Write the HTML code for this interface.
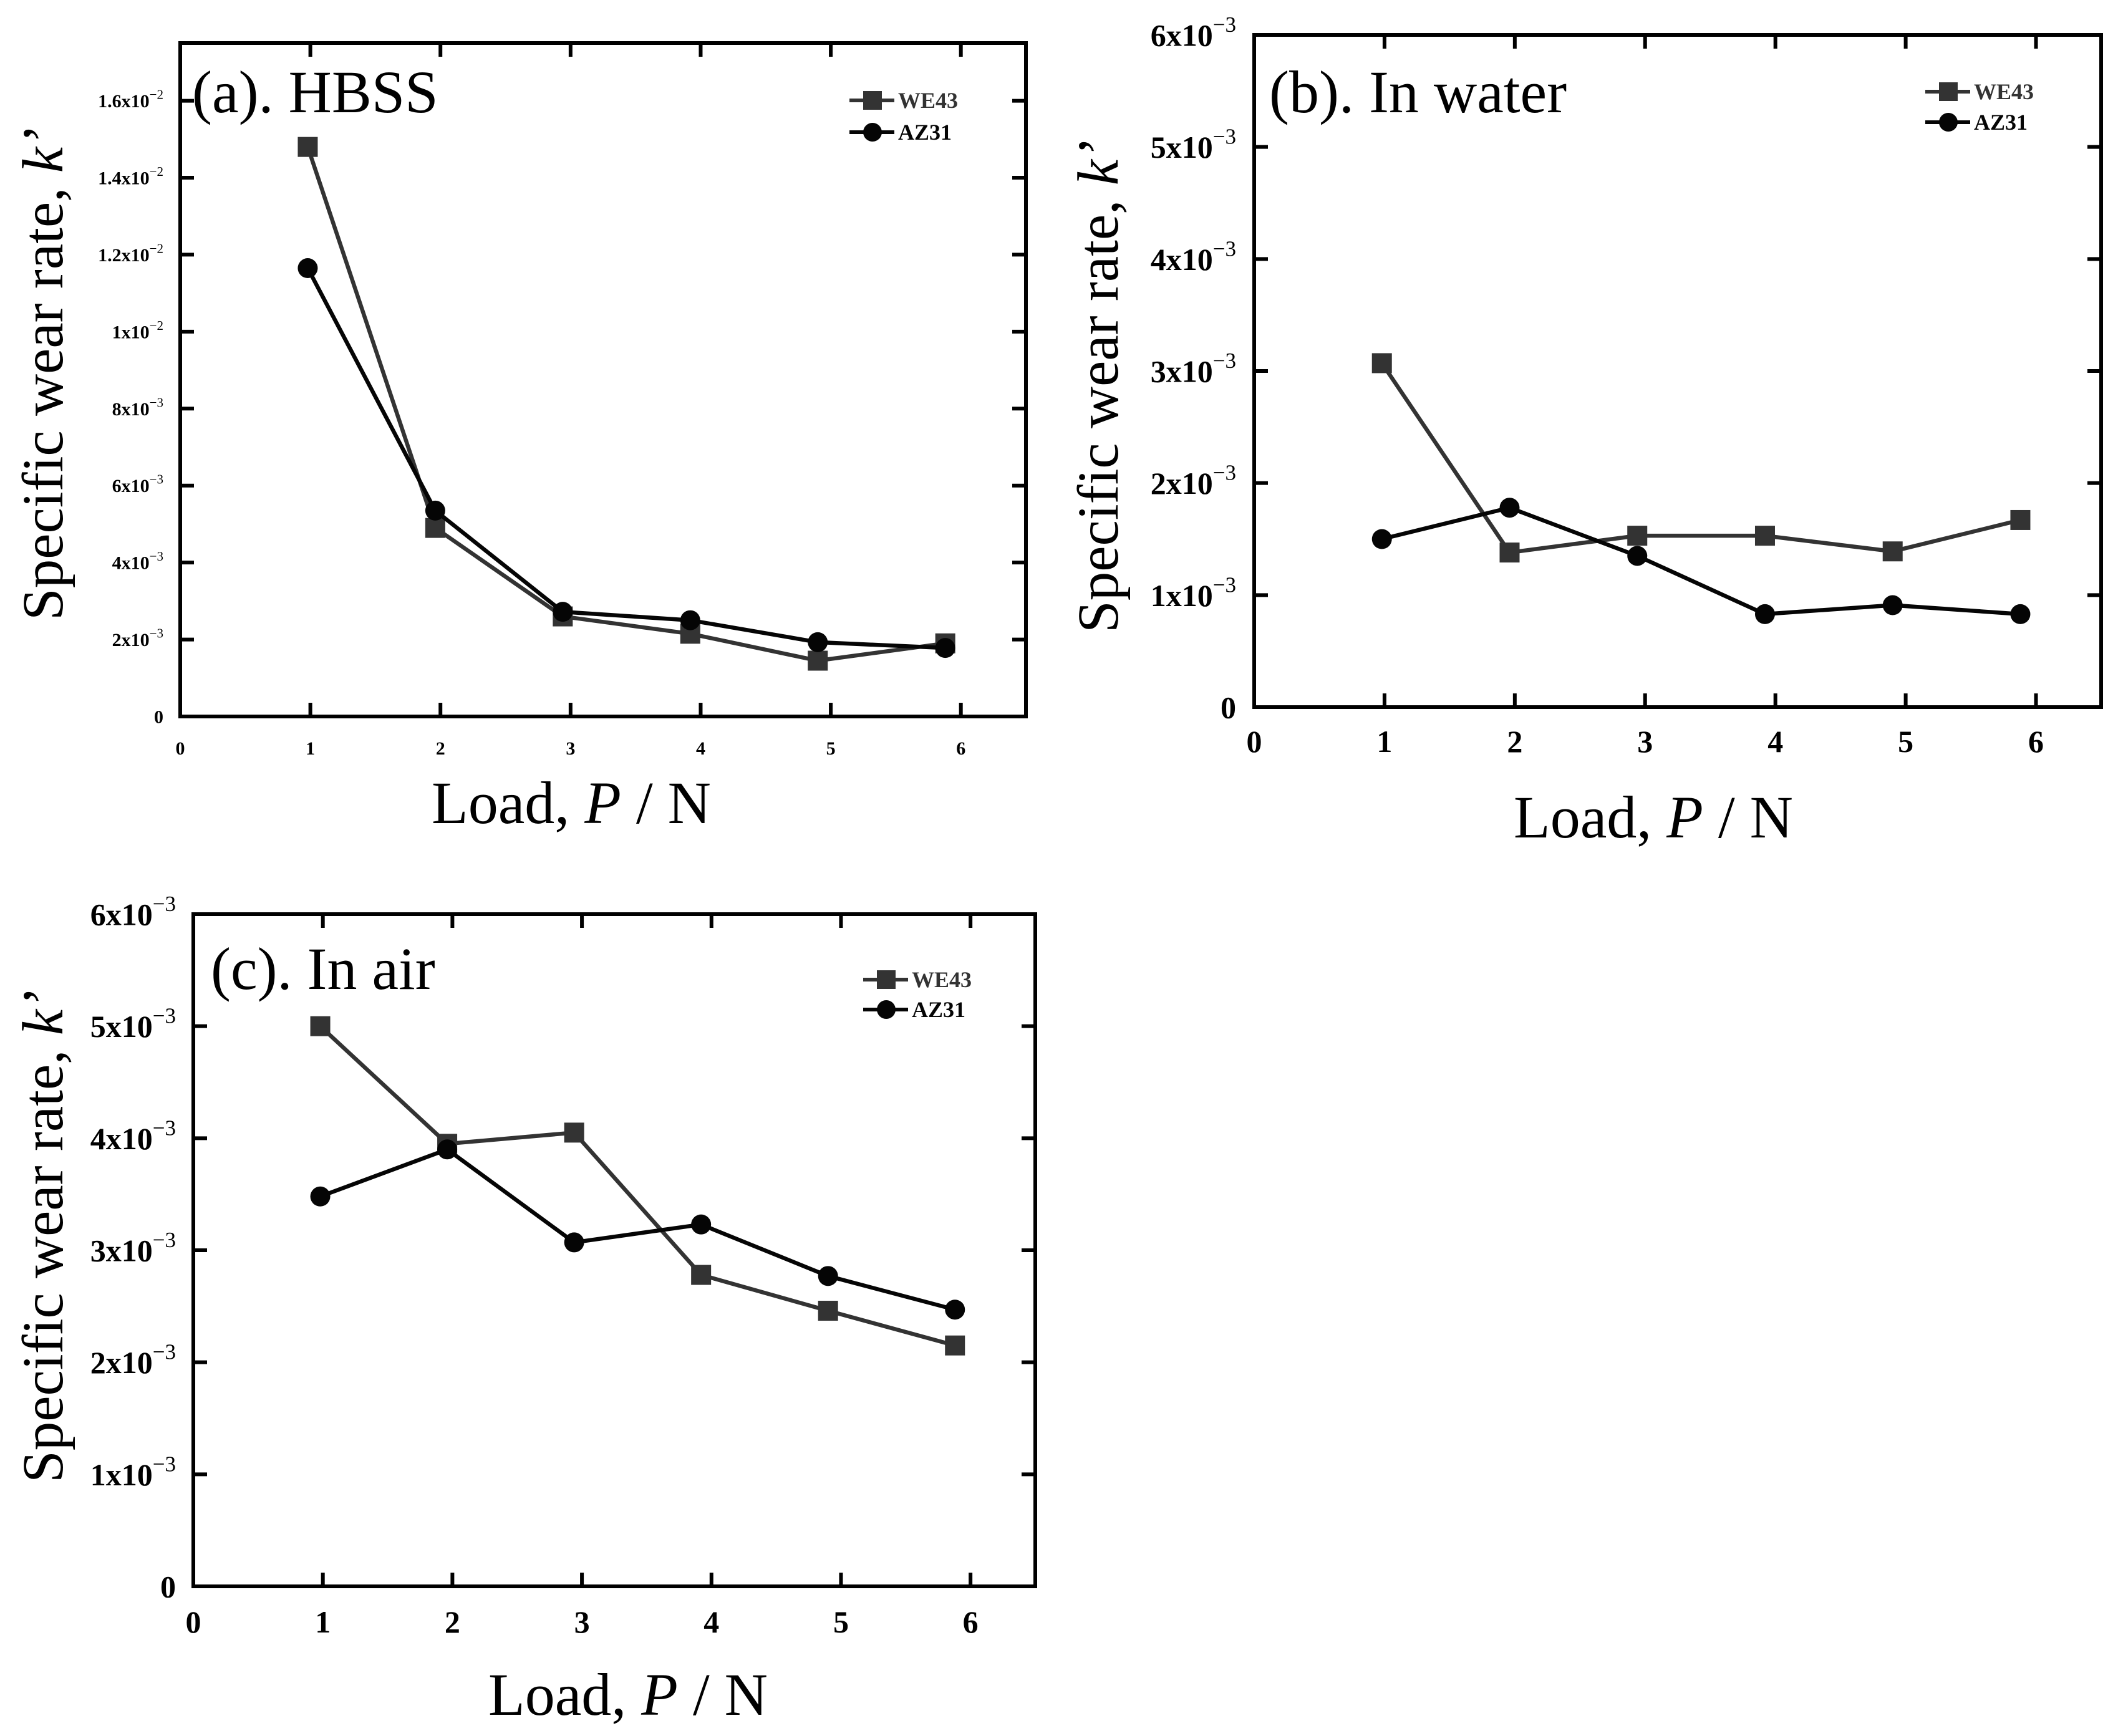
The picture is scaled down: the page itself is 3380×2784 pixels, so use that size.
<!DOCTYPE html>
<html><head><meta charset="utf-8">
<style>
html,body{margin:0;padding:0;background:#fff;}
svg{display:block;}
text{font-family:"Liberation Serif","DejaVu Serif",serif;}
</style></head>
<body>
<svg id="fig" width="3380" height="2784" viewBox="0 0 3380 2784" xmlns="http://www.w3.org/2000/svg"></svg>
<script>
const loads = [0.98, 1.96, 2.94, 3.92, 4.9, 5.88];
const xTicks = [0, 1, 2, 3, 4, 5, 6];
const seriesNames = ["WE43", "AZ31"];

const hbssWE43 = [0.0148, 0.0049, 0.0026, 0.00215, 0.00145, 0.0019];
const hbssAZ31 = [0.01165, 0.00535, 0.00272, 0.0025, 0.00193, 0.00178];
const hbssYTicks = [0, 0.002, 0.004, 0.006, 0.008, 0.01, 0.012, 0.014, 0.016];
const hbssYLabels = ["0", "2x10|-3", "4x10|-3", "6x10|-3", "8x10|-3", "1x10|-2", "1.2x10|-2", "1.4x10|-2", "1.6x10|-2"];

const waterWE43 = [0.00307, 0.00138, 0.00153, 0.00153, 0.00139, 0.00167];
const waterAZ31 = [0.0015, 0.00178, 0.00135, 0.00083, 0.00091, 0.00083];
const waterYTicks = [0, 0.001, 0.002, 0.003, 0.004, 0.005, 0.006];
const waterYLabels = ["0", "1x10|-3", "2x10|-3", "3x10|-3", "4x10|-3", "5x10|-3", "6x10|-3"];

const airWE43 = [0.005, 0.00395, 0.00405, 0.00278, 0.00246, 0.00215];
const airAZ31 = [0.00348, 0.0039, 0.00307, 0.00323, 0.00277, 0.00247];
const airYTicks = [0, 0.001, 0.002, 0.003, 0.004, 0.005, 0.006];
const airYLabels = ["0", "1x10|-3", "2x10|-3", "3x10|-3", "4x10|-3", "5x10|-3", "6x10|-3"];

const NS = "http://www.w3.org/2000/svg";
const svg = document.getElementById("fig");
function mk(tag, attrs, parent) {
  const e = document.createElementNS(NS, tag);
  for (const k in attrs) e.setAttribute(k, attrs[k]);
  (parent || svg).appendChild(e);
  return e;
}

function panel(cfg) {
  const g = mk("g", {});
  
  
  const L = cfg.box[0], T = cfg.box[1], R = cfg.box[2], B = cfg.box[3];
  const xs = v => L + (v / 6.5) * (R - L);
  const ys = v => B - (v / cfg.ymax) * (B - T);
  const tl = 22;
  xTicks.forEach(t => {
    const x = xs(t);
    const tk = mk("path", {d: `M${x} ${B}V${B - tl}M${x} ${T}V${T + tl}`, stroke: "#000", "stroke-width": 6}, g);
    
    
    const lb = mk("text", {x: x, y: cfg.xLabY, "text-anchor": "middle", "font-size": cfg.tf, "font-weight": "bold"}, g);
    lb.textContent = String(t);
    
    
  });
  cfg.yt.forEach((t, i) => {
    const y = ys(t);
    const tk = mk("path", {d: `M${L} ${y}H${L + tl}M${R} ${y}H${R - tl}`, stroke: "#000", "stroke-width": 6}, g);
    
    
    const parts = cfg.yl[i].split("|");
    const lb = mk("text", {x: cfg.yLabX, y: y + cfg.tf * 0.35, "text-anchor": "end", "font-size": cfg.tf, "font-weight": "bold"}, g);
    
    
    const s1 = mk("tspan", {}, lb); s1.textContent = parts[0];
    if (parts[1]) {
      const s2 = mk("tspan", {dy: -cfg.tf * 0.45, "font-size": cfg.tf * 0.7, "font-weight": "normal"}, lb);
      s2.textContent = "\u2212" + parts[1].slice(1);
    }
  });
  const fr = mk("rect", {x: L, y: T, width: R - L, height: B - T, fill: "none", stroke: "#000", "stroke-width": 6}, g);
  
  
  const data = [cfg.we, cfg.az];
  const colors = ["#333333", "#050505"];
  data.forEach((arr, si) => {
    const pts = arr.map((v, i) => `${xs(loads[i])},${ys(v)}`).join(" ");
    const pl = mk("polyline", {points: pts, fill: "none", stroke: colors[si], "stroke-width": 6.5, "stroke-linejoin": "round"}, g);
    
    
    arr.forEach((v, i) => {
      let m;
      if (si === 0) m = mk("rect", {x: xs(loads[i]) - 16, y: ys(v) - 16, width: 32, height: 32, fill: colors[0]}, g);
      else m = mk("circle", {cx: xs(loads[i]), cy: ys(v), r: 16, fill: colors[1]}, g);
      
      
    });
  });
  const lg = mk("g", {}, g);
  
  
  [0, 1].forEach(si => {
    const ly = cfg.leg[1] + si * cfg.leg[3];
    const lx = cfg.leg[0];
    const e = mk("g", {}, lg);
    
    
    mk("line", {x1: lx, x2: lx + 72, y1: ly, y2: ly, stroke: colors[si], "stroke-width": 6}, e);
    if (si === 0) mk("rect", {x: lx + 22, y: ly - 15, width: 30, height: 30, fill: colors[0]}, e);
    else mk("circle", {cx: lx + 37, cy: ly, r: 15, fill: colors[1]}, e);
    const t = mk("text", {x: lx + 78, y: ly + 12, "font-size": 36, "font-weight": "bold", fill: colors[si]}, e);
    t.textContent = seriesNames[si];
  });
  const ti = mk("text", {x: cfg.title[0], y: cfg.title[1], "font-size": 96}, g);
  ti.textContent = cfg.title[2];
  
  
  const yt = mk("text", {x: 0, y: 0, "font-size": 93, "text-anchor": "middle", transform: `translate(${cfg.yTitle[0]},${cfg.yTitle[1]}) rotate(-90)`}, g);
  
  
  mk("tspan", {}, yt).textContent = "Specific wear rate, ";
  mk("tspan", {"font-style": "italic"}, yt).textContent = "k\u2019";
  const xt = mk("text", {x: cfg.xTitle[0], y: cfg.xTitle[1], "font-size": 96, "text-anchor": "middle"}, g);
  
  
  mk("tspan", {}, xt).textContent = "Load, ";
  mk("tspan", {"font-style": "italic"}, xt).textContent = "P";
  mk("tspan", {}, xt).textContent = " / N";
}

panel({name: "panel-a-hbss", box: [289, 69, 1645, 1149], ymax: 0.0175, yt: hbssYTicks, yl: hbssYLabels,
  we: hbssWE43, az: hbssAZ31, tf: 30, xLabY: 1210, yLabX: 262, leg: [1362, 161, 0, 51],
  title: [308, 180, "(a). HBSS"], yTitle: [100, 600], xTitle: [916, 1320]});
panel({name: "panel-b-water", box: [2011, 56, 3369, 1134], ymax: 0.006, yt: waterYTicks, yl: waterYLabels,
  we: waterWE43, az: waterAZ31, tf: 50, xLabY: 1206, yLabX: 1982, leg: [3087, 147, 0, 49],
  title: [2035, 180, "(b). In water"], yTitle: [1792, 620], xTitle: [2651, 1343]});
panel({name: "panel-c-air", box: [310, 1466, 1660, 2544], ymax: 0.006, yt: airYTicks, yl: airYLabels,
  we: airWE43, az: airAZ31, tf: 50, xLabY: 2618, yLabX: 282, leg: [1384, 1571, 0, 48],
  title: [338, 1586, "(c). In air"], yTitle: [100, 1983], xTitle: [1007, 2750]});
</script>
</body></html>
